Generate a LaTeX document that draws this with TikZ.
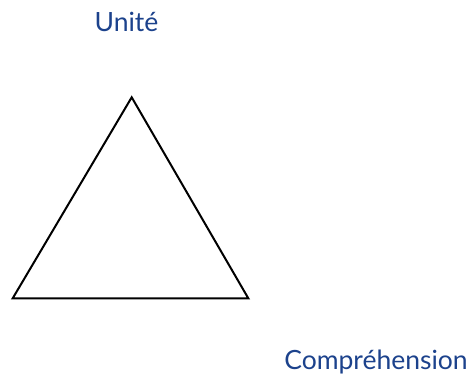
\documentclass[tikz,border=0pt]{standalone}
\usepackage{fontspec}
\setmainfont{Lato}
\definecolor{lblue}{RGB}{28,66,140}
\begin{document}
\begin{tikzpicture}[x=1pt,y=-1pt,
  lbl/.style={text=lblue,font=\fontsize{26.5}{31}\selectfont,inner sep=0pt,anchor=base},
  tri/.style={draw=black,line width=2pt,line join=miter}]
\useasboundingbox (0,0) rectangle (474,374);
\coordinate (t) at (131.7,97.3);
\coordinate (bl) at (12.7,298.3);
\coordinate (br) at (248.3,298.3);
\draw[tri] (t) -- (bl) -- (br) -- cycle;
\node[lbl] (u) at (126.5,32) {Unité};
\node[lbl] (c) at (376,369) {Compréhension};
\end{tikzpicture}
\end{document}
